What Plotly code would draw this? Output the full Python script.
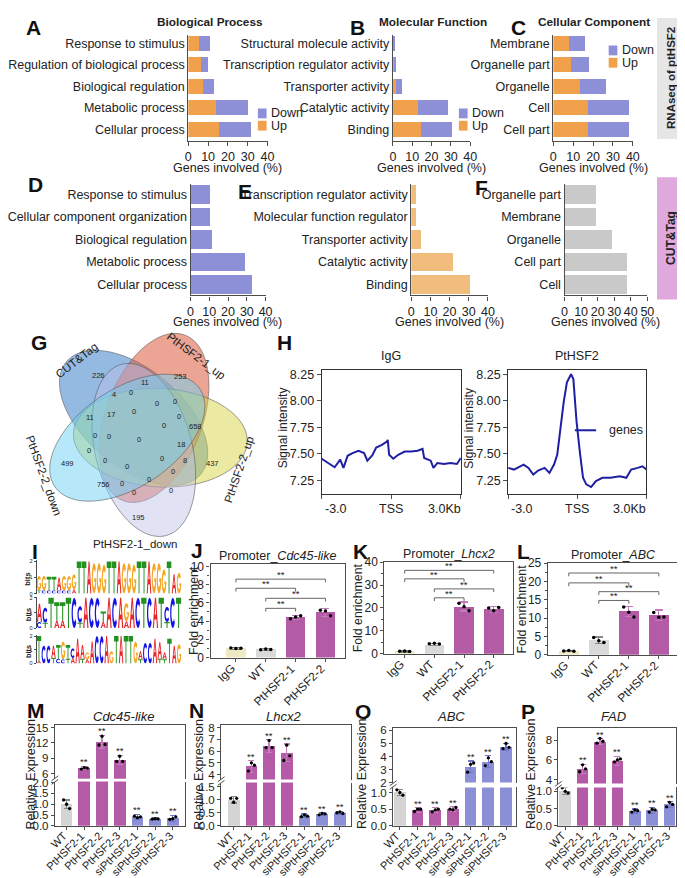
import numpy as np
import plotly.graph_objects as go

W, H = 685, 878
FONT = "Arial, 'Liberation Sans', Helvetica, sans-serif"
LINE = '#4d4d4d'


def PX(x):
    return x / W


def PY(y):
    return 1 - y / H

# ---------------- data ----------------
A_cats = ["Response to stimulus", "Regulation of biological process", "Biological regulation",
          "Metabolic process", "Cellular process"]
A_up = [5.6, 6.3, 7.3, 14.0, 15.3]
A_down = [5.4, 3.7, 5.6, 16.2, 16.3]
B_cats = ["Structural molecule activity", "Transcription regulator activity", "Transporter activity",
          "Catalytic activity", "Binding"]
B_up = [0.3, 1.0, 1.7, 13.0, 14.3]
B_down = [0.3, 0.6, 2.9, 15.7, 16.5]
C_cats = ["Membrane", "Organelle part", "Organelle", "Cell", "Cell part"]
C_up = [8.0, 8.9, 13.2, 17.6, 17.6]
C_down = [8.0, 8.9, 13.5, 20.4, 20.4]
D_cats = ["Response to stimulus", "Cellular component organization", "Biological regulation",
          "Metabolic process", "Cellular process"]
D_vals = [10.3, 10.3, 11.7, 29.0, 32.6]
E_cats = ["Transcription regulator activity", "Molecular function regulator", "Transporter activity",
          "Catalytic activity", "Binding"]
E_vals = [2.5, 2.7, 5.0, 22.0, 30.5]
F_cats = ["Organelle part", "Membrane", "Organelle", "Cell part", "Cell"]
F_vals = [18.9, 19.3, 28.4, 38.0, 38.0]

venn_sets = ["CUT&amp;Tag", "PtHSF2-1_up", "PtHSF2-2_up", "PtHSF2-1_down", "PtHSF2-2_down"]
venn_counts = [226, 253, 11, 4, 0, 0, 0, 11, 17, 0, 0, 658, 0, 0, 0, 0, 18, 0, 499, 0, 0, 8, 437,
               0, 0, 0, 756, 0, 0, 0, 195]

igg_x = [-3.0, -2.65, -2.44, -2.2, -2.06, -1.88, -1.67, -1.41, -1.17, -1.03, -0.82, -0.65, -0.4, -0.19,
         -0.15, -0.09, 0.09, 0.3, 0.58, 0.86, 1.14, 1.35, 1.42, 1.7, 1.82, 1.99, 2.27, 2.55, 2.83, 3.0]
igg_y = [7.454, 7.399, 7.374, 7.445, 7.368, 7.482, 7.507, 7.529, 7.507, 7.436, 7.485, 7.56, 7.584, 7.615,
         7.631, 7.491, 7.454, 7.491, 7.522, 7.522, 7.529, 7.547, 7.461, 7.436, 7.368, 7.414, 7.405, 7.414,
         7.405, 7.461]
hsf_x = [-3.0, -2.75, -2.33, -2.12, -1.91, -1.7, -1.42, -1.21, -1.01, -0.87, -0.73, -0.59, -0.45, -0.27,
         -0.17, -0.03, 0.11, 0.25, 0.39, 0.6, 0.81, 1.09, 1.44, 1.85, 2.13, 2.34, 2.62, 2.83, 3.0]
hsf_y = [7.368, 7.352, 7.399, 7.368, 7.306, 7.343, 7.368, 7.321, 7.399, 7.491, 7.739, 7.987, 8.173, 8.25,
         8.204, 7.801, 7.522, 7.275, 7.213, 7.188, 7.244, 7.275, 7.275, 7.29, 7.275, 7.352, 7.368, 7.383,
         7.352]

logo1_letters = "GGTTAGGGTTAGGGTTAGGGTTAGGGTAG"
logo1_heights = [0.9, 0.9, 0.85, 0.85, 0.8, 0.9, 0.9, 0.95, 2.0, 2.0, 2.0, 1.9, 1.9, 1.8, 2.0, 2.0, 2.0,
                 1.9, 1.9, 1.8, 2.0, 2.0, 2.0, 1.9, 1.9, 1.5, 2.0, 1.2, 1.3]
logo1_minor = "TCCCCCCA.....................A"
logo1_minor_h = [0.2, 0.2, 0.2, 0.2, 0.2, 0.2, 0.2, 0.25, 0, 0, 0, 0, 0, 0, 0, 0, 0, 0, 0, 0, 0, 0, 0, 0,
                 0, 0, 0, 0, 0.3]
logo2_letters = "ACTTTTCCACCTACAGACTCATCCT"
logo2_heights = [1.2, 1.0, 2.0, 1.2, 1.2, 2.0, 2.0, 1.1, 2.0, 2.0, 2.0, 0.7, 2.0, 2.0, 2.0, 1.2, 2.0, 2.0,
                 2.0, 2.0, 2.0, 2.0, 1.0, 2.0, 2.0]
logo2_minor = "CT.AA..T...A...A......T.."
logo2_minor_h = [0.4, 0.35, 0, 0.5, 0.5, 0, 0, 0.35, 0, 0, 0, 0.4, 0, 0, 0, 0.45, 0, 0, 0, 0, 0, 0, 0.4,
                 0, 0]
logo3_letters = "TCCATGTCAAGACCAGTATTGACCAAATAG"
logo3_heights = [1.8, 1.3, 1.3, 0.9, 1.0, 1.3, 1.0, 0.7, 1.8, 1.0, 0.5, 1.6, 2.0, 2.0, 2.0, 0.9, 2.0, 2.0,
                 2.0, 2.0, 1.6, 0.6, 1.5, 1.5, 1.8, 1.2, 0.5, 1.8, 1.3, 1.4]
logo3_minor = "A..TCCTA.TA.....C....TA..TTC.C"
logo3_minor_h = [0.2, 0, 0, 0.4, 0.35, 0.3, 0.35, 0.4, 0, 0.35, 0.3, 0, 0, 0, 0, 0.3, 0, 0, 0, 0, 0.3,
                 0.3, 0, 0, 0.2, 0.35, 0.3, 0, 0.3, 0]

prom_cats = ["IgG", "WT", "PtHSF2-1", "PtHSF2-2"]
J_mean = [1.0, 0.9, 4.4, 4.95]
J_sd = [0.08, 0.1, 0.25, 0.45]
J_reps = [[1.05, 1.0, 1.02], [0.85, 0.95, 0.9], [4.25, 4.45, 4.6], [5.2, 5.1, 4.6]]
J_brk_y = [8.6, 7.6, 6.5, 5.4]
K_mean = [1.0, 4.0, 20.6, 19.3]
K_sd = [0.3, 0.4, 2.0, 1.2]
K_reps = [[1.0, 1.2, 0.9], [4.3, 4.5, 4.2], [22.0, 20.5, 18.8], [19.9, 18.8, 20.2]]
K_brk_y = [36.4, 32.7, 28.3, 24.4]
L_mean = [1.0, 3.9, 11.8, 10.8]
L_sd = [0.2, 0.9, 1.4, 1.4]
L_reps = [[1.0, 1.1, 0.95], [4.7, 3.8, 3.3], [13.0, 11.6, 10.3], [11.5, 10.2, 10.3]]
L_brk_y = [22.3, 19.6, 17.2, 14.8]
brk_pairs = [(0, 3), (0, 2), (1, 3), (1, 2)]

expr_cats = ["WT", "PtHSF2-1", "PtHSF2-2", "PtHSF2-3", "siPtHSF2-1", "siPtHSF2-2", "siPtHSF2-3"]
M_mean = [1.0, 7.1, 12.2, 8.7, 0.42, 0.32, 0.35]
M_sd = [0.2, 0.35, 1.3, 0.9, 0.12, 0.04, 0.13]
M_reps = [[1.2, 1.0, 0.8], [6.9, 7.2, 7.1], [11.6, 13.3, 11.7], [8.4, 9.4, 8.4], [0.45, 0.38, 0.42],
          [0.31, 0.33, 0.32], [0.3, 0.33, 0.42]]
N_mean = [1.0, 4.7, 6.4, 5.85, 0.38, 0.45, 0.5]
N_sd = [0.13, 0.5, 0.55, 0.75, 0.07, 0.05, 0.05]
N_reps = [[1.05, 0.9, 1.05], [4.3, 5.0, 4.8], [6.3, 6.9, 6.3], [5.2, 6.5, 5.6], [0.35, 0.42, 0.37],
          [0.42, 0.47, 0.46], [0.5, 0.53, 0.47]]
O_mean = [1.0, 0.48, 0.47, 0.5, 3.2, 3.6, 4.75]
O_sd = [0.1, 0.07, 0.08, 0.07, 0.45, 0.45, 0.25]
O_reps = [[1.08, 1.0, 0.92], [0.43, 0.5, 0.5], [0.42, 0.48, 0.5], [0.5, 0.48, 0.55], [2.8, 3.4, 3.5],
          [3.3, 3.9, 3.6], [4.6, 5.0, 4.7]]
P_mean = [1.0, 5.1, 7.85, 5.9, 0.43, 0.45, 0.62]
P_sd = [0.1, 0.45, 0.3, 0.45, 0.06, 0.09, 0.08]
P_reps = [[1.1, 1.0, 0.95], [4.8, 5.5, 5.1], [7.7, 8.2, 7.9], [5.8, 6.0, 6.1], [0.4, 0.46, 0.44],
          [0.4, 0.48, 0.46], [0.55, 0.68, 0.62]]

# ---------------- styles ----------------
C_DOWN = '#8d90d6'
C_UP = '#f1a04b'
C_E = '#f0bd7c'
C_F = '#c9c9c9'
LOGO_COL = {'A': '#e8262a', 'C': '#1414e6', 'G': '#f5a524', 'T': '#23911f'}
prom_colors = ['#eee8c5', '#d9d9d9', '#b45ba6', '#b45ba6']
prom_err = ['#777777', '#888888', '#c27cbb', '#c27cbb']
expr_colors = ['#d4d4d4'] + ['#b55aa7'] * 3 + ['#8b90d6'] * 3
expr_err = ['#888888'] + ['#c47cbc'] * 3 + ['#7379cc'] * 3
DOT_OFF = [-0.17, 0.0, 0.17]

fig = go.Figure()
Lyt = dict(width=W, height=H, margin=dict(l=0, r=0, t=0, b=0, pad=0), autosize=False,
           paper_bgcolor='white', plot_bgcolor='rgba(0,0,0,0)', showlegend=False,
           barmode='stack', font=dict(family=FONT, size=12, color='#222'))
shapes, annots = [], []


def ann(text, x, y, size=12, bold=False, italic=False, angle=0, xanchor='center', yanchor='middle',
        color='#222'):
    t = text
    if bold:
        t = '<b>' + t + '</b>'
    if italic:
        t = '<i>' + t + '</i>'
    annots.append(dict(text=t, x=PX(x), y=PY(y), xref='paper', yref='paper', showarrow=False,
                       textangle=angle, xanchor=xanchor, yanchor=yanchor,
                       font=dict(size=size, color=color, family=FONT)))


def rot_labels(xa, labels, axis_y, size):
    for i, t in enumerate(labels):
        annots.append(dict(text=t, x=i, y=PY(axis_y + 1), xref=xa, yref='paper', showarrow=False,
                           textangle=-45, xanchor='right', yanchor='top', xshift=5,
                           font=dict(size=size, color='#222', family=FONT)))


def rect_px(x0, y0, x1, y1, fill):
    shapes.append(dict(type='rect', xref='paper', yref='paper', x0=PX(x0), x1=PX(x1), y0=PY(y1),
                       y1=PY(y0), fillcolor=fill, line=dict(width=0), layer='below'))


def line_px(x0, y0, x1, y1, color, width):
    shapes.append(dict(type='line', xref='paper', yref='paper', x0=PX(x0), x1=PX(x1), y0=PY(y0),
                       y1=PY(y1), line=dict(color=color, width=width)))


def set_axes(n, x0, x1, y0, y1, xa=None, ya=None):
    s = '' if n == 1 else str(n)
    xd = dict(domain=[PX(x0), PX(x1)], anchor='y' + s)
    yd = dict(domain=[PY(y1), PY(y0)], anchor='x' + s)
    xd.update(xa or {})
    yd.update(ya or {})
    Lyt['xaxis' + s] = xd
    Lyt['yaxis' + s] = yd
    return 'x' + s, 'y' + s


def lin_ax(**kw):
    d = dict(showline=True, linecolor=LINE, linewidth=1.2, ticks='outside', ticklen=4, tickwidth=1.1,
             tickcolor=LINE, showgrid=False, zeroline=False, tickfont=dict(size=12, color='#222'),
             fixedrange=True)
    d.update(kw)
    return d


# ---------------- A-F GO panels ----------------
def go_panel(n, cats, series, x0, x1, y0, y1, yr, xmax, bw):
    xa, ya = set_axes(n, x0, x1, y0, y1,
                      lin_ax(range=[0, xmax], tickvals=list(range(0, xmax + 1, 10)),
                             tickfont=dict(size=12.5, color='#222')),
                      dict(showline=True, linecolor=LINE, linewidth=1.2, ticks='', showgrid=False,
                           zeroline=False, type='category', categoryorder='array',
                           categoryarray=cats[::-1], range=yr, fixedrange=True,
                           tickfont=dict(size=12.5, color='#222')))
    for vals, col in series:
        fig.add_trace(go.Bar(y=cats[::-1], x=vals[::-1], orientation='h', width=bw,
                             marker=dict(color=col, line=dict(width=0)), xaxis=xa, yaxis=ya,
                             hoverinfo='skip'))


go_panel(1, A_cats, [(A_up, C_UP), (A_down, C_DOWN)], 170, 252, 20, 128, [-0.55, 4.41], 40, 0.7)
go_panel(2, B_cats, [(B_up, C_UP), (B_down, C_DOWN)], 381.7, 461.7, 20, 128, [-0.55, 4.41], 40, 0.7)
go_panel(3, C_cats, [(C_up, C_UP), (C_down, C_DOWN)], 547.7, 630, 20, 128, [-0.55, 4.41], 40, 0.7)
go_panel(4, D_cats, [(D_vals, C_DOWN)], 172.3, 250, 172, 285, [-0.48, 4.45], 40, 0.83)
go_panel(5, E_cats, [(E_vals, C_E)], 400.7, 480, 172, 285, [-0.48, 4.45], 40, 0.83)
go_panel(6, F_cats, [(F_vals, C_F)], 559.3, 645, 172, 285, [-0.48, 4.45], 50, 0.83)

for cx in (211, 422, 589):
    ann('Genes involved (%)', cx, 155, size=12.5)
for cx in (211, 440, 602):
    ann('Genes involved (%)', cx, 312, size=12.5)
ann('Biological Process', 192, 7, size=11.8, bold=True)
ann('Molecular Function', 423, 7, size=11.8, bold=True)
ann('Cellular Component', 590, 7, size=11.8, bold=True)

for lx, ly in ((242, 95), (450, 95), (605, 31)):
    rect_px(lx, ly, lx + 9, ly + 10, C_DOWN)
    rect_px(lx, ly + 12.5, lx + 9, ly + 22.5, C_UP)
    ann('Down', lx + 12, ly + 5, size=12.5, xanchor='left')
    ann('Up', lx + 12, ly + 17.5, size=12.5, xanchor='left')

rect_px(655, 3, 685, 126, '#e6e6e6')
ann('RNAseq of ptHSF2', 670, 64.5, size=11.5, bold=True, angle=-90)
rect_px(655, 165, 685, 289, '#e0a9dd')
ann('CUT&amp;Tag', 670, 227, size=12, bold=True, angle=-90)

# ---------------- G Venn ----------------
venn_fill = ['rgba(60,130,200,0.55)', 'rgba(220,90,60,0.55)', 'rgba(215,212,70,0.5)',
             'rgba(190,190,232,0.45)', 'rgba(110,210,245,0.5)']
venn_angles = [126, 54, -18, -90, 198]
VC = (124, 424)
Vd, Va, Vb, Vtilt = 18, 90, 50, 15
tt = np.linspace(0, 2 * np.pi, 91)
for ang, fill in zip(venn_angles, venn_fill):
    th = np.radians(ang)
    ph = np.radians(ang + Vtilt)
    cx = VC[0] + Vd * np.cos(th)
    cy = VC[1] - Vd * np.sin(th)
    xs = cx + Va * np.cos(tt) * np.cos(ph) - Vb * np.sin(tt) * np.sin(ph)
    ys = cy - (Va * np.cos(tt) * np.sin(ph) + Vb * np.sin(tt) * np.cos(ph))
    path = 'M ' + ' L '.join(f'{PX(x):.5f},{PY(y):.5f}' for x, y in zip(xs, ys)) + ' Z'
    shapes.append(dict(type='path', path=path, xref='paper', yref='paper', fillcolor=fill,
                       line=dict(color='rgba(90,90,90,0.75)', width=0.8), layer='above'))

venn_label_xy = [(77, 366), (162, 367), (125, 373), (93, 386), (111, 384), (138, 395), (156, 393),
                 (68, 409), (90, 406), (114, 403), (160, 408), (177, 418), (145, 417), (73, 427),
                 (88, 428), (119, 431), (162, 436), (67, 443), (45, 456), (84, 453), (143, 451),
                 (167, 453), (195, 456), (107, 459), (154, 464), (129, 472), (82, 477), (101, 476),
                 (152, 483), (114, 485), (118, 511)]
for cnt, (vx, vy) in zip(venn_counts, venn_label_xy):
    ann(str(cnt), vx, vy, size=7.5)
venn_set_xy = [(55, 351, -38), (178, 347, 37), (222, 462, -71), (115, 538, 0), (21, 468, 70)]
for name, (sx, sy, sa) in zip(venn_sets, venn_set_xy):
    ann(name, sx, sy, size=11.5, angle=sa)

# ---------------- H profiles ----------------
H_y = dict(range=[7.12, 8.287], tickvals=[7.25, 7.5, 7.75, 8.0, 8.25], tickformat='.2f', mirror=True,
           linewidth=1, linecolor='#333', tickfont=dict(size=12.5, color='#222'))
for n, x0, x1, xs, ys, ttl in ((8, 308, 452, igg_x, igg_y, 'IgG'), (9, 501, 644, hsf_x, hsf_y, 'PtHSF2')):
    xa, ya = set_axes(n, x0, x1, 361, 487,
                      lin_ax(range=[-3, 3], tickvals=[-3, 0, 3], showticklabels=False, mirror=True,
                             linewidth=1, linecolor='#333'),
                      lin_ax(**H_y))
    fig.add_trace(go.Scatter(x=xs, y=ys, mode='lines', line=dict(color='#1f1fa3', width=2),
                             xaxis=xa, yaxis=ya, hoverinfo='skip'))
    ann(ttl, (x0 + x1) / 2, 347, size=12.5)
    ann('-3.0', x0 + 1, 502, size=12.5, xanchor='left')
    ann('TSS', (x0 + x1) / 2, 502, size=12.5)
    ann('3.0Kb', x1 + 2, 502, size=12.5, xanchor='right')
    ann('Signal intensity', x0 - 40, 420, size=12, angle=-90)
line_px(570, 422, 592, 422, '#1f1fa3', 2)
ann('genes', 603, 422, size=12.5, xanchor='left')

# ---------------- I logos ----------------
def arc(cx, cy, rx, ry, a0, a1, n=16):
    ts = np.radians(np.linspace(a0, a1, n))
    return [(cx + rx * np.cos(t), cy + ry * np.sin(t)) for t in ts]


GLYPHS = {
    'T': [[(0, 1), (1, 1), (1, 0.8), (0.6, 0.8), (0.6, 0), (0.4, 0), (0.4, 0.8), (0, 0.8)]],
    'A': [[(0, 0), (0.39, 1), (0.61, 1), (1, 0), (0.77, 0), (0.68, 0.28), (0.32, 0.28), (0.23, 0)],
          [(0.37, 0.45), (0.63, 0.45), (0.5, 0.8)]],
    'C': [arc(0.5, 0.5, 0.5, 0.5, 40, 320) + arc(0.5, 0.5, 0.27, 0.29, 320, 40)],
    'G': [arc(0.5, 0.5, 0.5, 0.5, 40, 360) + [(0.55, 0.5), (0.55, 0.38), (0.76, 0.38)]
          + arc(0.5, 0.5, 0.27, 0.29, -25, -320)],
}


def glyph_path(letter, xc, w, y0, h):
    parts = []
    for poly in GLYPHS[letter]:
        pts = [(xc - w / 2 + w * u, y0 + h * v) for u, v in poly]
        parts.append('M ' + ' L '.join(f'{x:.4f},{y:.4f}' for x, y in pts) + ' Z')
    return ' '.join(parts)


logo_rows = [(logo1_letters, logo1_heights, logo1_minor, logo1_minor_h, 554, 588),
             (logo2_letters, logo2_heights, logo2_minor, logo2_minor_h, 591, 623),
             (logo3_letters, logo3_heights, logo3_minor, logo3_minor_h, 630, 659)]
for k, (lets, hts, mins, minh, y0, y1) in enumerate(logo_rows):
    n = 10 + k
    ncol = len(lets)
    xa, ya = set_axes(n, 13, 163, y0, y1,
                      dict(range=[-0.5, ncol - 0.5], visible=False, fixedrange=True),
                      lin_ax(range=[0, 2.08], tickvals=[0, 1, 2], ticklen=2, linewidth=0.8,
                             tickfont=dict(size=5.5, color='#222')))
    for i in range(ncol):
        base = 0.0
        if i < len(mins) and mins[i] != '.' and minh[i] > 0:
            shapes.append(dict(type='path', xref=xa, yref=ya,
                               path=glyph_path(mins[i], i, 0.92, 0, minh[i]),
                               fillcolor=LOGO_COL[mins[i]], line=dict(width=0)))
            base = minh[i]
        shapes.append(dict(type='path', xref=xa, yref=ya, path=glyph_path(lets[i], i, 0.92, base, hts[i]),
                           fillcolor=LOGO_COL[lets[i]], line=dict(width=0)))
    ann('bits', 4, (y0 + y1) / 2 + 2, size=7.5, bold=True, angle=-90)

# ---------------- J-L promoter panels ----------------
def prom_panel(n, dom, xr, yr, dt, mdt, means, sds, reps, bys, drop, title, ylx):
    x0, x1, y0, y1 = dom
    xa, ya = set_axes(n, x0, x1, y0, y1,
                      lin_ax(range=xr, tickvals=[0, 1, 2, 3], showticklabels=False, mirror=True,
                             ticklen=3),
                      lin_ax(range=yr, tick0=0, dtick=dt, mirror=True, ticklen=3,
                             tickfont=dict(size=12, color='#222'),
                             minor=dict(tick0=0, dtick=mdt, ticks='outside', ticklen=2, tickcolor=LINE)))
    for i in range(4):
        fig.add_trace(go.Bar(x=[i], y=[means[i]], width=0.66,
                             marker=dict(color=prom_colors[i], line=dict(width=0)),
                             error_y=dict(type='data', array=[sds[i]], color=prom_err[i], thickness=1.2,
                                          width=4), xaxis=xa, yaxis=ya, hoverinfo='skip'))
    for i in range(4):
        fig.add_trace(go.Scatter(x=[i + o for o in DOT_OFF], y=reps[i], mode='markers',
                                 marker=dict(color='black', size=3.5), xaxis=xa, yaxis=ya,
                                 hoverinfo='skip'))
    for (a, b), h in zip(brk_pairs, bys):
        shapes.append(dict(type='path', xref=xa, yref=ya,
                           path=f'M {a},{h - drop} L {a},{h} L {b},{h} L {b},{h - drop}',
                           line=dict(color='#666', width=1)))
        annots.append(dict(text='**', x=(a + b) / 2, y=h, xref=xa, yref=ya, showarrow=False,
                           yanchor='bottom', yshift=-3, font=dict(size=9.5, color='#222', family=FONT)))
    rot_labels(xa, prom_cats, y1, 11.8)
    ann(title, (x0 + x1) / 2, y0 - 8, size=12.5)
    ann('Fold enrichment', ylx, (y0 + y1) / 2, size=12.3, angle=-90)


prom_panel(13, (193, 332, 558, 653), [-0.85, 3.65], [0, 10.25], 2, 1, J_mean, J_sd, J_reps, J_brk_y,
           0.35, 'Promoter_<i>Cdc45-like</i>', 176)
prom_panel(14, (373, 506, 556, 649), [-0.68, 3.65], [0, 40], 10, 5, K_mean, K_sd, K_reps, K_brk_y,
           1.4, 'Promoter_<i>Lhcx2</i>', 346)
prom_panel(15, (542, 678, 557, 650), [-0.7, 3.68], [0, 25], 5, 2.5, L_mean, L_sd, L_reps, L_brk_y,
           0.9, 'Promoter_<i>ABC</i>', 515)

# ---------------- M-P expression panels ----------------
def expr_panel(n, xdom, xr, lo_dom, lo_r, lo_tv, hi_dom, hi_r, hi_tv, means, sds, reps, title, tx, ylx):
    x0, x1 = xdom
    xa, ya = set_axes(n, x0, x1, lo_dom[0], lo_dom[1],
                      lin_ax(range=xr, tickvals=list(range(7)), showticklabels=False, ticklen=3),
                      lin_ax(range=lo_r, tickvals=lo_tv, tickformat='.1f', mirror=True, ticklen=3,
                             tickfont=dict(size=11.5, color='#222')))
    xb, yb = set_axes(n + 1, x0, x1, hi_dom[0], hi_dom[1],
                      dict(range=xr, showline=True, side='top', linecolor=LINE, linewidth=1.2, ticks='',
                           showticklabels=False, showgrid=False, zeroline=False, fixedrange=True),
                      lin_ax(range=hi_r, tickvals=hi_tv, mirror=True, ticklen=3,
                             tickfont=dict(size=11.5, color='#222')))
    for axx, axy in ((xa, ya), (xb, yb)):
        for i in range(7):
            fig.add_trace(go.Bar(x=[i], y=[means[i]], width=0.66,
                                 marker=dict(color=expr_colors[i], line=dict(width=0)),
                                 error_y=dict(type='data', array=[sds[i]], color=expr_err[i],
                                              thickness=1.2, width=3), xaxis=axx, yaxis=axy,
                                 hoverinfo='skip'))
        for i in range(7):
            fig.add_trace(go.Scatter(x=[i + o for o in DOT_OFF], y=reps[i], mode='markers',
                                     marker=dict(color='black', size=3.3), xaxis=axx, yaxis=axy,
                                     hoverinfo='skip'))
    for i in range(1, 7):
        top = means[i] + sds[i]
        axx, axy = (xb, yb) if top > lo_r[1] else (xa, ya)
        annots.append(dict(text='**', x=i, y=top, xref=axx, yref=axy, showarrow=False, yanchor='bottom',
                           yshift=-3, font=dict(size=9.5, color='#222', family=FONT)))
    rot_labels(xa, expr_cats, lo_dom[1], 11)
    gap = (lo_dom[0] + hi_dom[1]) / 2
    for dy in (-1.8, 1.8):
        line_px(x0 - 3.5, gap + dy + 2.5, x0 + 3.5, gap + dy - 2.5, LINE, 1)
    ann(title, tx, 713, size=13, italic=True)
    ann('Relative Expression', ylx, 771, size=12.5, angle=-90)


expr_panel(16, (32, 167), [-0.66, 6.71], (779, 824), [0, 2.05], [0, 0.5, 1.0, 1.5, 2.0],
           (722, 776), [5.04, 15.4], [6, 9, 12, 15], M_mean, M_sd, M_reps, 'Cdc45-like', 103, 7)
expr_panel(18, (204, 338), [-0.71, 6.61], (780, 824), [0, 1.65], [0, 0.5, 1.0, 1.5],
           (722, 777), [3.58, 8.17], [4, 5, 6, 7, 8], N_mean, N_sd, N_reps, 'Lhcx2', 268, 181)
expr_panel(20, (382, 509), [-0.38, 6.56], (785, 824), [0, 1.15], [0, 0.5, 1.0],
           (725, 780), [2.0, 6.15], [2, 3, 4, 5, 6], O_mean, O_sd, O_reps, 'ABC', 442, 349)
expr_panel(22, (553, 675), [-0.39, 6.39], (785, 824), [0, 1.11], [0, 0.5, 1.0],
           (725, 781), [3.6, 9.2], [4, 6, 8], P_mean, P_sd, P_reps, 'FAD', 610, 524)

# ---------------- panel letters ----------------
panel_letters = [('A', 10, 13), ('B', 345, 13), ('C', 512, 13), ('D', 12, 172), ('E', 229, 179),
                 ('F', 473, 175), ('G', 16, 333), ('H', 270, 333), ('I', 11, 545), ('J', 179, 544),
                 ('K', 348, 545), ('L', 517, 545), ('M', 12, 707), ('N', 178, 707), ('O', 351, 708),
                 ('P', 522, 708)]
for t, x, y in panel_letters:
    ann(t, x, y, size=21, bold=True, color='#111')

Lyt['shapes'] = shapes
Lyt['annotations'] = annots
fig.update_layout(**Lyt)
fig.write_html("out.html")
